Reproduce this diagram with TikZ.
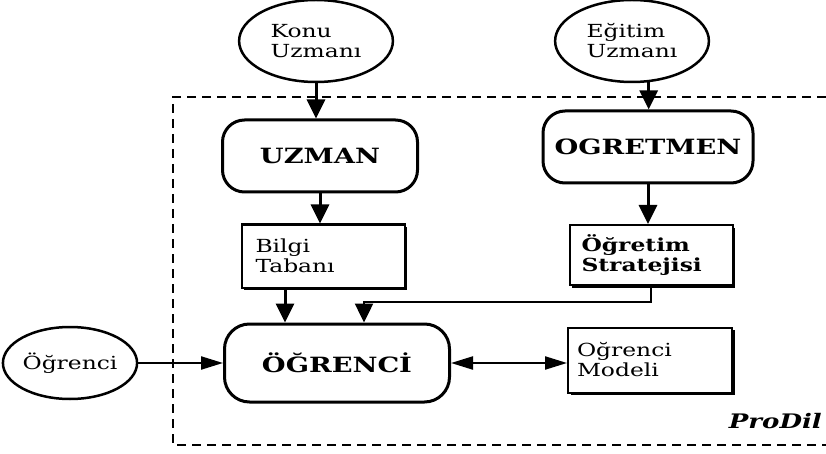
\documentclass[tikz,border=0pt]{standalone}
\usepackage{fontspec}
\setmainfont{DejaVu Serif}[FakeStretch=1.3]
\usetikzlibrary{arrows.meta,shapes.geometric,shadows}
\begin{document}
\begin{tikzpicture}[x=1pt,y=-1pt,
  every node/.style={inner sep=0pt, font=\fontsize{18}{20}\selectfont},
  oval/.style={ellipse, draw, line width=2.5pt, align=left, fill=white},
  roundbox/.style={draw, line width=3pt, rounded corners=22pt, fill=white,
    font=\fontsize{21}{24}\selectfont\bfseries},
  shbox/.style={draw, line width=2pt, fill=white, align=left,
    drop shadow={shadow xshift=2.5pt, shadow yshift=-2.5pt, fill=black, opacity=1}},
  varrow/.style={line width=3pt, -{Triangle[length=19pt,width=18pt]}},
  harrow/.style={line width=2.2pt, -{Triangle[length=22pt,width=13pt]}},
  frame/.style={line width=2.5pt, dash pattern=on 9pt off 6pt}
]
\useasboundingbox (0,0) rectangle (826,454);
% dashed frame
\draw[frame] (826,97) -| (173,445) -- (826,445);
% nodes
\node[oval, minimum width=118pt, minimum height=82pt, inner xsep=9pt] (konu) at (316,41)
  {Konu\\Uzmanı};
\node[oval, minimum width=96pt, minimum height=82pt, inner xsep=9pt] (egitim) at (632,41)
  {Eğitim\\Uzmanı};
\node[roundbox, minimum width=195pt, minimum height=72pt] (uzman) at (320,156) {UZMAN};
\node[roundbox, minimum width=210pt, minimum height=72pt] (ogret) at (648,147) {OGRETMEN};
\node[shbox, text width=135pt, inner xsep=14pt, minimum height=63pt] (bilgi) at (323,256)
  {Bilgi\\Tabanı};
\node[shbox, text width=139pt, inner xsep=12pt, minimum height=60pt,
  font=\fontsize{18}{20}\selectfont\bfseries] (strat) at (651,255)
  {Öğretim\\Stratejisi};
\node[roundbox, minimum width=225pt, minimum height=78pt, rounded corners=25pt] (ogrenci)
  at (337,363) {ÖĞRENCİ};
\node[shbox, text width=146pt, inner xsep=9pt, minimum height=65pt] (model) at (650,360)
  {Oğrenci\\Modeli};
\node[oval, minimum width=120pt, minimum height=72pt] (ogr) at (70,363) {Öğrenci};
\node[anchor=base east, font=\fontsize{20}{20}\selectfont\bfseries\itshape] (prodil)
  at (822,428) {ProDil};
% connectors
\draw[varrow] (konu.south) -- (konu.south |- uzman.north);
\draw[varrow] (egitim.292) -- (egitim.292 |- ogret.north);
\draw[varrow] (uzman.south) -- (uzman.south |- bilgi.north);
\draw[varrow] (ogret.south) -- (ogret.south |- strat.north);
\draw[varrow] ([xshift=-38pt]bilgi.south) -- ([xshift=-38pt]bilgi.south |- ogrenci.north);
\draw[line width=2.5pt, -{Triangle[length=19pt,width=18pt]}]
  (strat.south) -- ++(0,16) -| ([xshift=27pt]ogrenci.north);
\draw[harrow] (ogr.east) -- (ogrenci.west);
\draw[line width=2.2pt, {Triangle[length=22pt,width=13pt]}-{Triangle[length=22pt,width=13pt]}]
  (ogrenci.east) -- (ogrenci.east -| model.west);
\end{tikzpicture}
\end{document}
